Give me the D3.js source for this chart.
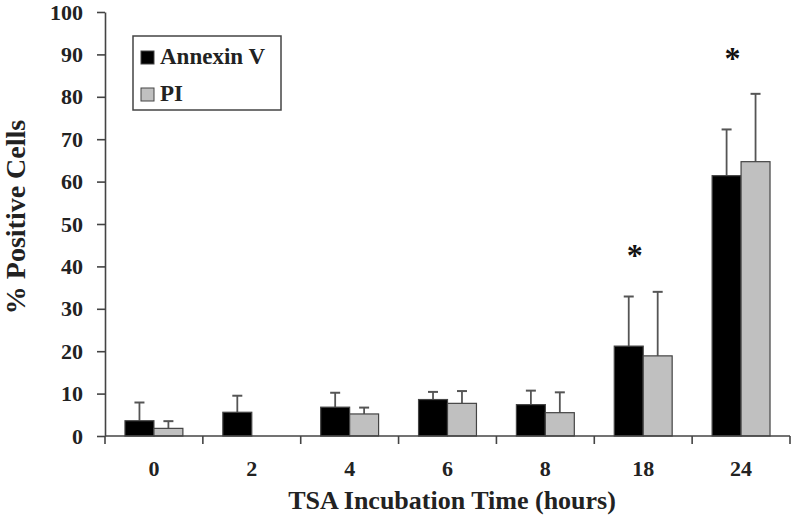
<!DOCTYPE html>
<html><head><meta charset="utf-8">
<script src="https://cdn.jsdelivr.net/npm/d3@7"></script>
<style>html,body{margin:0;padding:0;background:#fff;}svg{display:block;}</style>
</head><body>
<script>
const categories = ["0","2","4","6","8","18","24"];
const seriesNames = ["Annexin V","PI"];
const annexin = [3.6, 5.6, 6.8, 8.6, 7.4, 21.2, 61.4];
const annexinErr = [4.3, 3.9, 3.4, 1.8, 3.3, 11.7, 10.9];
const pi = [1.8, null, 5.2, 7.7, 5.5, 18.9, 64.7];
const piErr = [1.7, null, 1.5, 2.9, 4.8, 15.1, 16.0];
const yTicks = [0,10,20,30,40,50,60,70,80,90,100];
const asterisks = [{cat:"18", value:44}, {cat:"24", value:90.6}];

const W = 800, H = 523;
const svg = d3.select("body").append("svg").attr("width", W).attr("height", H);
const font = "'Liberation Serif','Times New Roman',serif";

const x = d3.scaleBand().domain(categories).range([105, 790]).padding(0);
const xs = d3.scaleBand().domain(seriesNames).range([0, x.bandwidth()]).paddingInner(0).paddingOuter(0.69);
const y = d3.scaleLinear().domain([0, 100]).range([436, 12]);

const axisColor = "#444";

// bars
const series = [
  {name:"Annexin V", vals:annexin, errs:annexinErr, fill:"#000000"},
  {name:"PI", vals:pi, errs:piErr, fill:"#c0c0c0"}
];
series.forEach(s => {
  const rows = categories.map((c,i) => ({c, v:s.vals[i], e:s.errs[i]})).filter(d => d.v != null);
  const g = svg.append("g");
  g.selectAll("line.err").data(rows).join("line")
    .attr("x1", d => x(d.c) + xs(s.name) + xs.bandwidth()/2)
    .attr("x2", d => x(d.c) + xs(s.name) + xs.bandwidth()/2)
    .attr("y1", d => y(d.v)).attr("y2", d => y(d.v + d.e))
    .attr("stroke", "#555").attr("stroke-width", 1.8);
  g.selectAll("line.cap").data(rows).join("line")
    .attr("x1", d => x(d.c) + xs(s.name) + xs.bandwidth()/2 - 5)
    .attr("x2", d => x(d.c) + xs(s.name) + xs.bandwidth()/2 + 5)
    .attr("y1", d => y(d.v + d.e)).attr("y2", d => y(d.v + d.e))
    .attr("stroke", "#555").attr("stroke-width", 2);
  g.selectAll("rect").data(rows).join("rect")
    .attr("x", d => x(d.c) + xs(s.name))
    .attr("width", xs.bandwidth())
    .attr("y", d => y(d.v))
    .attr("height", d => y(0) - y(d.v))
    .attr("fill", s.fill).attr("stroke", "#444").attr("stroke-width", 1.2);
});

// y axis
const yAxis = d3.axisLeft(y).tickValues(yTicks).tickSize(8).tickSizeOuter(0).tickPadding(14);
const gy = svg.append("g").attr("transform", "translate(105,0)").call(yAxis);
gy.select(".domain").attr("stroke", axisColor).attr("stroke-width", 1.6);
gy.selectAll(".tick line").attr("stroke", axisColor).attr("stroke-width", 1.6);
gy.selectAll(".tick text").attr("font-family", font).attr("font-weight", "bold")
  .attr("font-size", 22).attr("fill", "#222");

// x axis (ticks at category boundaries)
const boundaries = categories.map(c => x(c)).concat([x.range()[1]]);
const gx = svg.append("g");
gx.append("line").attr("x1", 105).attr("x2", 790).attr("y1", y(0)).attr("y2", y(0))
  .attr("stroke", axisColor).attr("stroke-width", 1.6);
gx.selectAll("line.t").data(boundaries).join("line")
  .attr("x1", d => d).attr("x2", d => d).attr("y1", y(0)).attr("y2", y(0) + 8)
  .attr("stroke", axisColor).attr("stroke-width", 1.6);
gx.selectAll("text").data(categories).join("text")
  .attr("x", d => x(d) + x.bandwidth()/2).attr("y", 476)
  .attr("text-anchor", "middle").attr("font-family", font).attr("font-weight", "bold")
  .attr("font-size", 22).attr("fill", "#222").text(d => d);

// asterisks
svg.selectAll("text.ast").data(asterisks).join("text")
  .attr("x", d => x(d.cat) + xs("Annexin V") + xs.bandwidth()/2 + 6)
  .attr("y", d => y(d.value) + 17)
  .attr("text-anchor", "middle").attr("font-family", font).attr("font-weight", "bold")
  .attr("font-size", 32).attr("fill", "#111").text("*");

// axis titles
svg.append("text").attr("x", 452).attr("y", 509).attr("text-anchor", "middle")
  .attr("font-family", font).attr("font-weight", "bold").attr("font-size", 26).attr("fill", "#222")
  .text("TSA Incubation Time (hours)");
svg.append("text").attr("transform", "translate(25,217) rotate(-90)").attr("text-anchor", "middle")
  .attr("font-family", font).attr("font-weight", "bold").attr("font-size", 28).attr("fill", "#222")
  .text("% Positive Cells");

// legend
const lg = svg.append("g");
lg.append("rect").attr("x", 133).attr("y", 36).attr("width", 148).attr("height", 74)
  .attr("fill", "#fff").attr("stroke", "#444").attr("stroke-width", 1.5);
series.forEach((s, i) => {
  const cy = 57 + i * 37;
  lg.append("rect").attr("x", 141).attr("y", cy - 6).attr("width", 13).attr("height", 13)
    .attr("fill", s.fill).attr("stroke", "#444").attr("stroke-width", 1);
  lg.append("text").attr("x", 160).attr("y", cy + 7).attr("font-family", font)
    .attr("font-weight", "bold").attr("font-size", 23).attr("fill", "#222").text(s.name);
});
</script>
</body></html>
